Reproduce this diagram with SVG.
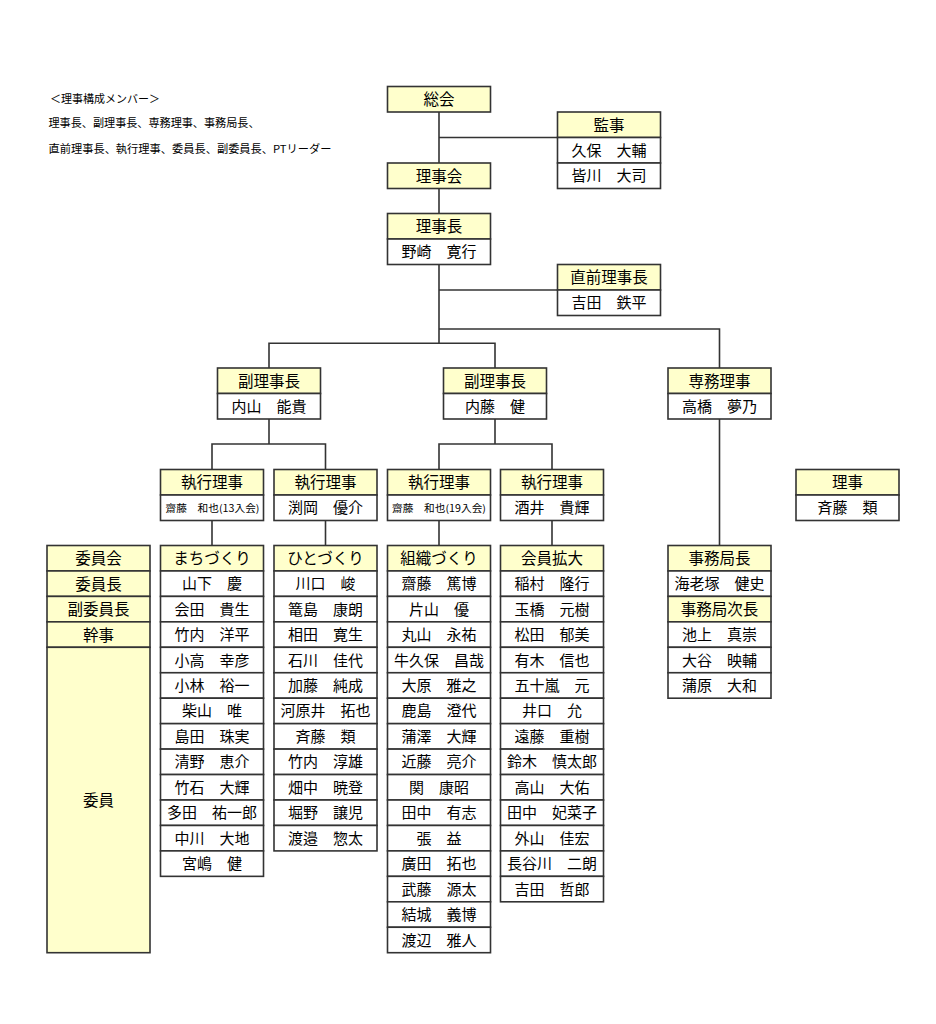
<svg xmlns="http://www.w3.org/2000/svg" width="936" height="1024" viewBox="0 0 936 1024">
<style>
  text { font-family: "Noto Sans CJK JP", "Noto Sans", sans-serif; fill: #000; text-anchor: middle; }
  .h { fill: #FFFFCC; stroke: #333; stroke-width: 1.6; }
  .c { fill: #FFFFFF; stroke: #333; stroke-width: 1.6; }
  .ht { font-size: 15.5px; }
  .nt { font-size: 15px; }
  .st { font-size: 10px; }
  .lg { font-size: 11px; text-anchor: start; }
  .ln { fill: none; stroke: #333; stroke-width: 1.6; }
</style>
<rect x="0" y="0" width="936" height="1024" fill="#FFFFFF"/>

<g id="legend">
  <text class="lg" x="50" y="102.5" textLength="110" lengthAdjust="spacingAndGlyphs">＜理事構成メンバー＞</text>
  <text class="lg" x="48.5" y="127" textLength="211" lengthAdjust="spacingAndGlyphs">理事長、副理事長、専務理事、事務局長、</text>
  <text class="lg" x="48.5" y="152.5" textLength="283" lengthAdjust="spacingAndGlyphs">直前理事長、執行理事、委員長、副委員長、PTリーダー</text>
</g>

<g id="connectors">
  <path class="ln" d="M439,112 V343.3"/>
  <path class="ln" d="M439,137.5 H557.5"/>
  <path class="ln" d="M439,290 H557.5"/>
  <path class="ln" d="M439,329 H719.5 V368"/>
  <path class="ln" d="M269,368 V343.3 H495 V368"/>
  <path class="ln" d="M269,419 V444"/>
  <path class="ln" d="M212,469.5 V444 H325.5 V469.5"/>
  <path class="ln" d="M495,419 V444"/>
  <path class="ln" d="M439,469.5 V444 H552 V469.5"/>
  <path class="ln" d="M212,520.5 V545.5"/>
  <path class="ln" d="M325.5,520.5 V545.5"/>
  <path class="ln" d="M439,520.5 V545.5"/>
  <path class="ln" d="M552,520.5 V545.5"/>
  <path class="ln" d="M719.5,419 V545.5"/>
</g>

<g id="soukai">
  <rect class="h" x="387.5" y="86.5" width="103" height="25.5"/>
  <text class="ht" x="439" y="105.2">総会</text>
</g>

<g id="kanji">
  <rect class="h" x="557.5" y="112" width="103" height="25.5"/>
  <rect class="c" x="557.5" y="137.5" width="103" height="25.5"/>
  <rect class="c" x="557.5" y="163" width="103" height="25.5"/>
  <text class="ht" x="609" y="130.7">監事</text>
  <text class="nt" x="609" y="155.8">久保　大輔</text>
  <text class="nt" x="609" y="181.3">皆川　大司</text>
</g>

<g id="rijikai">
  <rect class="h" x="387.5" y="163" width="103" height="25.5"/>
  <text class="ht" x="439" y="181.7">理事会</text>
</g>

<g id="rijicho">
  <rect class="h" x="387.5" y="213.5" width="103" height="25.5"/>
  <rect class="c" x="387.5" y="239" width="103" height="25.5"/>
  <text class="ht" x="439" y="232.2">理事長</text>
  <text class="nt" x="439" y="257.3">野崎　寛行</text>
</g>

<g id="chokuzen">
  <rect class="h" x="557.5" y="264.5" width="103" height="25.5"/>
  <rect class="c" x="557.5" y="290" width="103" height="25.5"/>
  <text class="ht" x="609" y="283.2">直前理事長</text>
  <text class="nt" x="609" y="308.3">吉田　鉄平</text>
</g>

<g id="fuku1">
  <rect class="h" x="217.5" y="368" width="103" height="25.5"/>
  <rect class="c" x="217.5" y="393.5" width="103" height="25.5"/>
  <text class="ht" x="269" y="386.7">副理事長</text>
  <text class="nt" x="269" y="411.8">内山　能貴</text>
</g>

<g id="fuku2">
  <rect class="h" x="443.5" y="368" width="103" height="25.5"/>
  <rect class="c" x="443.5" y="393.5" width="103" height="25.5"/>
  <text class="ht" x="495" y="386.7">副理事長</text>
  <text class="nt" x="495" y="411.8">内藤　健</text>
</g>

<g id="senmu">
  <rect class="h" x="668" y="368" width="103" height="25.5"/>
  <rect class="c" x="668" y="393.5" width="103" height="25.5"/>
  <text class="ht" x="719.5" y="386.7">専務理事</text>
  <text class="nt" x="719.5" y="411.8">高橋　夢乃</text>
</g>

<g id="shikko1">
  <rect class="h" x="160.5" y="469.5" width="103" height="25.5"/>
  <rect class="c" x="160.5" y="495" width="103" height="25.5"/>
  <text class="ht" x="212" y="488.2">執行理事</text>
  <text class="st" x="212.5" y="511.5" textLength="94" lengthAdjust="spacingAndGlyphs">齋藤　和也(13入会)</text>
</g>

<g id="shikko2">
  <rect class="h" x="274" y="469.5" width="103" height="25.5"/>
  <rect class="c" x="274" y="495" width="103" height="25.5"/>
  <text class="ht" x="325.5" y="488.2">執行理事</text>
  <text class="nt" x="325.5" y="513.3">渕岡　優介</text>
</g>

<g id="shikko3">
  <rect class="h" x="387.5" y="469.5" width="103" height="25.5"/>
  <rect class="c" x="387.5" y="495" width="103" height="25.5"/>
  <text class="ht" x="439" y="488.2">執行理事</text>
  <text class="st" x="439" y="511.5" textLength="94" lengthAdjust="spacingAndGlyphs">齋藤　和也(19入会)</text>
</g>

<g id="shikko4">
  <rect class="h" x="500.5" y="469.5" width="103" height="25.5"/>
  <rect class="c" x="500.5" y="495" width="103" height="25.5"/>
  <text class="ht" x="552" y="488.2">執行理事</text>
  <text class="nt" x="552" y="513.3">酒井　貴輝</text>
</g>

<g id="riji">
  <rect class="h" x="796" y="469.5" width="103" height="25.5"/>
  <rect class="c" x="796" y="495" width="103" height="25.5"/>
  <text class="ht" x="847.5" y="488.2">理事</text>
  <text class="nt" x="847.5" y="513.3">斉藤　類</text>
</g>

<g id="iinkai">
  <rect class="h" x="47" y="545.5" width="103" height="25.45"/>
  <rect class="h" x="47" y="570.95" width="103" height="25.45"/>
  <rect class="h" x="47" y="596.4" width="103" height="25.45"/>
  <rect class="h" x="47" y="621.85" width="103" height="25.45"/>
  <rect class="h" x="47" y="647.3" width="103" height="305.4"/>
  <text class="ht" x="98.5" y="564.2">委員会</text>
  <text class="ht" x="98.5" y="589.6">委員長</text>
  <text class="ht" x="98.5" y="615.1">副委員長</text>
  <text class="ht" x="98.5" y="640.5">幹事</text>
  <text class="ht" x="98.5" y="806">委員</text>
</g>

<g id="machizukuri">
  <rect class="h" x="160.5" y="545.5" width="103" height="25.45"/>
  <rect class="c" x="160.5" y="570.95" width="103" height="25.45"/>
  <rect class="c" x="160.5" y="596.4" width="103" height="25.45"/>
  <rect class="c" x="160.5" y="621.85" width="103" height="25.45"/>
  <rect class="c" x="160.5" y="647.3" width="103" height="25.45"/>
  <rect class="c" x="160.5" y="672.75" width="103" height="25.45"/>
  <rect class="c" x="160.5" y="698.2" width="103" height="25.45"/>
  <rect class="c" x="160.5" y="723.65" width="103" height="25.45"/>
  <rect class="c" x="160.5" y="749.1" width="103" height="25.45"/>
  <rect class="c" x="160.5" y="774.55" width="103" height="25.45"/>
  <rect class="c" x="160.5" y="800" width="103" height="25.45"/>
  <rect class="c" x="160.5" y="825.45" width="103" height="25.45"/>
  <rect class="c" x="160.5" y="850.9" width="103" height="25.45"/>
  <text class="ht" x="212" y="564.2">まちづくり</text>
  <text class="nt" x="212" y="589.2">山下　慶</text>
  <text class="nt" x="212" y="614.6">会田　貴生</text>
  <text class="nt" x="212" y="640.1">竹内　洋平</text>
  <text class="nt" x="212" y="665.5">小高　幸彦</text>
  <text class="nt" x="212" y="691">小林　裕一</text>
  <text class="nt" x="212" y="716.4">柴山　唯</text>
  <text class="nt" x="212" y="741.9">島田　珠実</text>
  <text class="nt" x="212" y="767.3">清野　恵介</text>
  <text class="nt" x="212" y="792.8">竹石　大輝</text>
  <text class="nt" x="212" y="818.2">多田　祐一郎</text>
  <text class="nt" x="212" y="843.7">中川　大地</text>
  <text class="nt" x="212" y="869.1">宮嶋　健</text>
</g>

<g id="hitozukuri">
  <rect class="h" x="274" y="545.5" width="103" height="25.45"/>
  <rect class="c" x="274" y="570.95" width="103" height="25.45"/>
  <rect class="c" x="274" y="596.4" width="103" height="25.45"/>
  <rect class="c" x="274" y="621.85" width="103" height="25.45"/>
  <rect class="c" x="274" y="647.3" width="103" height="25.45"/>
  <rect class="c" x="274" y="672.75" width="103" height="25.45"/>
  <rect class="c" x="274" y="698.2" width="103" height="25.45"/>
  <rect class="c" x="274" y="723.65" width="103" height="25.45"/>
  <rect class="c" x="274" y="749.1" width="103" height="25.45"/>
  <rect class="c" x="274" y="774.55" width="103" height="25.45"/>
  <rect class="c" x="274" y="800" width="103" height="25.45"/>
  <rect class="c" x="274" y="825.45" width="103" height="25.45"/>
  <text class="ht" x="325.5" y="564.2">ひとづくり</text>
  <text class="nt" x="325.5" y="589.2">川口　峻</text>
  <text class="nt" x="325.5" y="614.6">篭島　康朗</text>
  <text class="nt" x="325.5" y="640.1">相田　寛生</text>
  <text class="nt" x="325.5" y="665.5">石川　佳代</text>
  <text class="nt" x="325.5" y="691">加藤　純成</text>
  <text class="nt" x="325.5" y="716.4">河原井　拓也</text>
  <text class="nt" x="325.5" y="741.9">斉藤　類</text>
  <text class="nt" x="325.5" y="767.3">竹内　淳雄</text>
  <text class="nt" x="325.5" y="792.8">畑中　暁登</text>
  <text class="nt" x="325.5" y="818.2">堀野　譲児</text>
  <text class="nt" x="325.5" y="843.7">渡邉　惣太</text>
</g>

<g id="soshikizukuri">
  <rect class="h" x="387.5" y="545.5" width="103" height="25.45"/>
  <rect class="c" x="387.5" y="570.95" width="103" height="25.45"/>
  <rect class="c" x="387.5" y="596.4" width="103" height="25.45"/>
  <rect class="c" x="387.5" y="621.85" width="103" height="25.45"/>
  <rect class="c" x="387.5" y="647.3" width="103" height="25.45"/>
  <rect class="c" x="387.5" y="672.75" width="103" height="25.45"/>
  <rect class="c" x="387.5" y="698.2" width="103" height="25.45"/>
  <rect class="c" x="387.5" y="723.65" width="103" height="25.45"/>
  <rect class="c" x="387.5" y="749.1" width="103" height="25.45"/>
  <rect class="c" x="387.5" y="774.55" width="103" height="25.45"/>
  <rect class="c" x="387.5" y="800" width="103" height="25.45"/>
  <rect class="c" x="387.5" y="825.45" width="103" height="25.45"/>
  <rect class="c" x="387.5" y="850.9" width="103" height="25.45"/>
  <rect class="c" x="387.5" y="876.35" width="103" height="25.45"/>
  <rect class="c" x="387.5" y="901.8" width="103" height="25.45"/>
  <rect class="c" x="387.5" y="927.25" width="103" height="25.45"/>
  <text class="ht" x="439" y="564.2">組織づくり</text>
  <text class="nt" x="439" y="589.2">齋藤　篤博</text>
  <text class="nt" x="439" y="614.6">片山　優</text>
  <text class="nt" x="439" y="640.1">丸山　永祐</text>
  <text class="nt" x="439" y="665.5">牛久保　昌哉</text>
  <text class="nt" x="439" y="691">大原　雅之</text>
  <text class="nt" x="439" y="716.4">鹿島　澄代</text>
  <text class="nt" x="439" y="741.9">蒲澤　大輝</text>
  <text class="nt" x="439" y="767.3">近藤　亮介</text>
  <text class="nt" x="439" y="792.8">関　康昭</text>
  <text class="nt" x="439" y="818.2">田中　有志</text>
  <text class="nt" x="439" y="843.7">張　益</text>
  <text class="nt" x="439" y="869.1">廣田　拓也</text>
  <text class="nt" x="439" y="894.6">武藤　源太</text>
  <text class="nt" x="439" y="920">結城　義博</text>
  <text class="nt" x="439" y="945.5">渡辺　雅人</text>
</g>

<g id="kaiinkakudai">
  <rect class="h" x="500.5" y="545.5" width="103" height="25.45"/>
  <rect class="c" x="500.5" y="570.95" width="103" height="25.45"/>
  <rect class="c" x="500.5" y="596.4" width="103" height="25.45"/>
  <rect class="c" x="500.5" y="621.85" width="103" height="25.45"/>
  <rect class="c" x="500.5" y="647.3" width="103" height="25.45"/>
  <rect class="c" x="500.5" y="672.75" width="103" height="25.45"/>
  <rect class="c" x="500.5" y="698.2" width="103" height="25.45"/>
  <rect class="c" x="500.5" y="723.65" width="103" height="25.45"/>
  <rect class="c" x="500.5" y="749.1" width="103" height="25.45"/>
  <rect class="c" x="500.5" y="774.55" width="103" height="25.45"/>
  <rect class="c" x="500.5" y="800" width="103" height="25.45"/>
  <rect class="c" x="500.5" y="825.45" width="103" height="25.45"/>
  <rect class="c" x="500.5" y="850.9" width="103" height="25.45"/>
  <rect class="c" x="500.5" y="876.35" width="103" height="25.45"/>
  <text class="ht" x="552" y="564.2">会員拡大</text>
  <text class="nt" x="552" y="589.2">稲村　隆行</text>
  <text class="nt" x="552" y="614.6">玉橋　元樹</text>
  <text class="nt" x="552" y="640.1">松田　郁美</text>
  <text class="nt" x="552" y="665.5">有木　信也</text>
  <text class="nt" x="552" y="691">五十嵐　元</text>
  <text class="nt" x="552" y="716.4">井口　允</text>
  <text class="nt" x="552" y="741.9">遠藤　重樹</text>
  <text class="nt" x="552" y="767.3">鈴木　慎太郎</text>
  <text class="nt" x="552" y="792.8">高山　大佑</text>
  <text class="nt" x="552" y="818.2">田中　妃菜子</text>
  <text class="nt" x="552" y="843.7">外山　佳宏</text>
  <text class="nt" x="552" y="869.1">長谷川　二朗</text>
  <text class="nt" x="552" y="894.6">吉田　哲郎</text>
</g>

<g id="jimukyoku">
  <rect class="h" x="668" y="545.5" width="103" height="25.45"/>
  <rect class="c" x="668" y="570.95" width="103" height="25.45"/>
  <rect class="h" x="668" y="596.4" width="103" height="25.45"/>
  <rect class="c" x="668" y="621.85" width="103" height="25.45"/>
  <rect class="c" x="668" y="647.3" width="103" height="25.45"/>
  <rect class="c" x="668" y="672.75" width="103" height="25.45"/>
  <text class="ht" x="719.5" y="564.2">事務局長</text>
  <text class="nt" x="719.5" y="589.2">海老塚　健史</text>
  <text class="ht" x="719.5" y="615.1">事務局次長</text>
  <text class="nt" x="719.5" y="640.1">池上　真崇</text>
  <text class="nt" x="719.5" y="665.5">大谷　映輔</text>
  <text class="nt" x="719.5" y="691">蒲原　大和</text>
</g>
</svg>
